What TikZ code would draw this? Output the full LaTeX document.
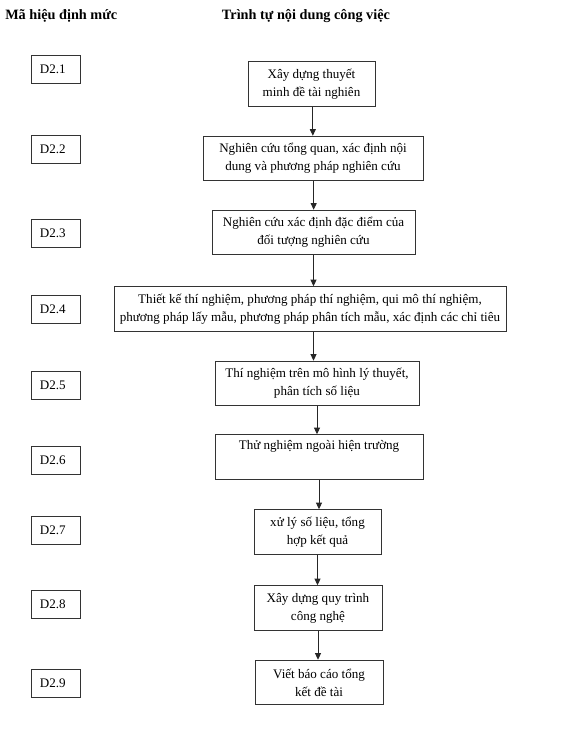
\documentclass[tikz,border=0pt]{standalone}
\usepackage{fontspec}
\setmainfont{Liberation Serif}
\usetikzlibrary{arrows.meta}
\begin{document}
\begin{tikzpicture}[x=0.75pt,y=-0.75pt,
  every node/.style={font=\fontsize{9.8}{13.5}\selectfont},
  hdr/.style={font=\fontsize{10.7}{13.5}\selectfont\bfseries, inner sep=0pt},
  codebox/.style={draw=black!80, line width=0.6pt, minimum height=21pt, text width=23.25pt, inner xsep=6.75pt, inner ysep=0pt, align=left},
  stepbox/.style={draw=black!80, line width=0.6pt, minimum height=33.5pt, inner xsep=1pt, inner ysep=0pt, align=center},
  arr/.style={-{Triangle[length=5pt,width=4.5pt]}, line width=0.7pt, black!85}]
\useasboundingbox (0,0) rectangle (576,733);
\node[hdr, anchor=west] (h1) at (5,16) {Mã hiệu định mức};
\node[hdr] (h2) at (306,16) {Trình tự nội dung công việc};
\node[codebox] (d1) at (55.5,69) {D2.1};
\node[codebox] (d2) at (55.5,149.5) {D2.2};
\node[codebox] (d3) at (55.5,233) {D2.3};
\node[codebox] (d4) at (55.5,309.5) {D2.4};
\node[codebox] (d5) at (55.5,385) {D2.5};
\node[codebox] (d6) at (55.5,460.5) {D2.6};
\node[codebox] (d7) at (55.5,530.5) {D2.7};
\node[codebox] (d8) at (55.5,604.5) {D2.8};
\node[codebox] (d9) at (55.5,683) {D2.9};
\node[stepbox, minimum width=95.25pt] (b1) at (311.5,84) {Xây dựng thuyết\\minh đề tài nghiên};
\node[stepbox, minimum width=165pt] (b2) at (313,158.5) {Nghiên cứu tổng quan, xác định nội\\dung và phương pháp nghiên cứu};
\node[stepbox, minimum width=152.25pt] (b3) at (313.5,232.5) {Nghiên cứu xác định đặc điểm của\\đối tượng nghiên cứu};
\node[stepbox, minimum width=294pt] (b4) at (310,309) {Thiết kế thí nghiệm, phương pháp thí nghiệm, qui mô thí nghiệm,\\phương pháp lấy mẫu, phương pháp phân tích mẫu, xác định các chỉ tiêu};
\node[stepbox, minimum width=153pt] (b5) at (317,383.5) {Thí nghiệm trên mô hình lý thuyết,\\phân tích số liệu};
\node[stepbox, minimum width=156pt] (b6) at (319,457) {Thử nghiệm ngoài hiện trường\\\strut};
\node[stepbox, minimum width=95.25pt] (b7) at (317.5,532) {xử lý số liệu, tổng\\hợp kết quả};
\node[stepbox, minimum width=96pt] (b8) at (318,608) {Xây dựng quy trình\\công nghệ};
\node[stepbox, minimum width=96pt] (b9) at (319,682.5) {Viết báo cáo tổng\\kết đề tài};
\draw[arr] ([xshift=1pt]b1.south) -- ([xshift=1pt]b1.south |- b2.north);
\draw[arr] ([xshift=0.5pt]b2.south) -- ([xshift=0.5pt]b2.south |- b3.north);
\draw[arr] (b3.south) -- (b3.south |- b4.north);
\draw[arr] (b3.south |- b4.south) -- (b3.south |- b5.north);
\draw[arr] (b5.south) -- (b5.south |- b6.north);
\draw[arr] (b6.south) -- (b6.south |- b7.north);
\draw[arr] (b7.south) -- (b7.south |- b8.north);
\draw[arr] (b8.south) -- (b8.south |- b9.north);
\end{tikzpicture}
\end{document}
